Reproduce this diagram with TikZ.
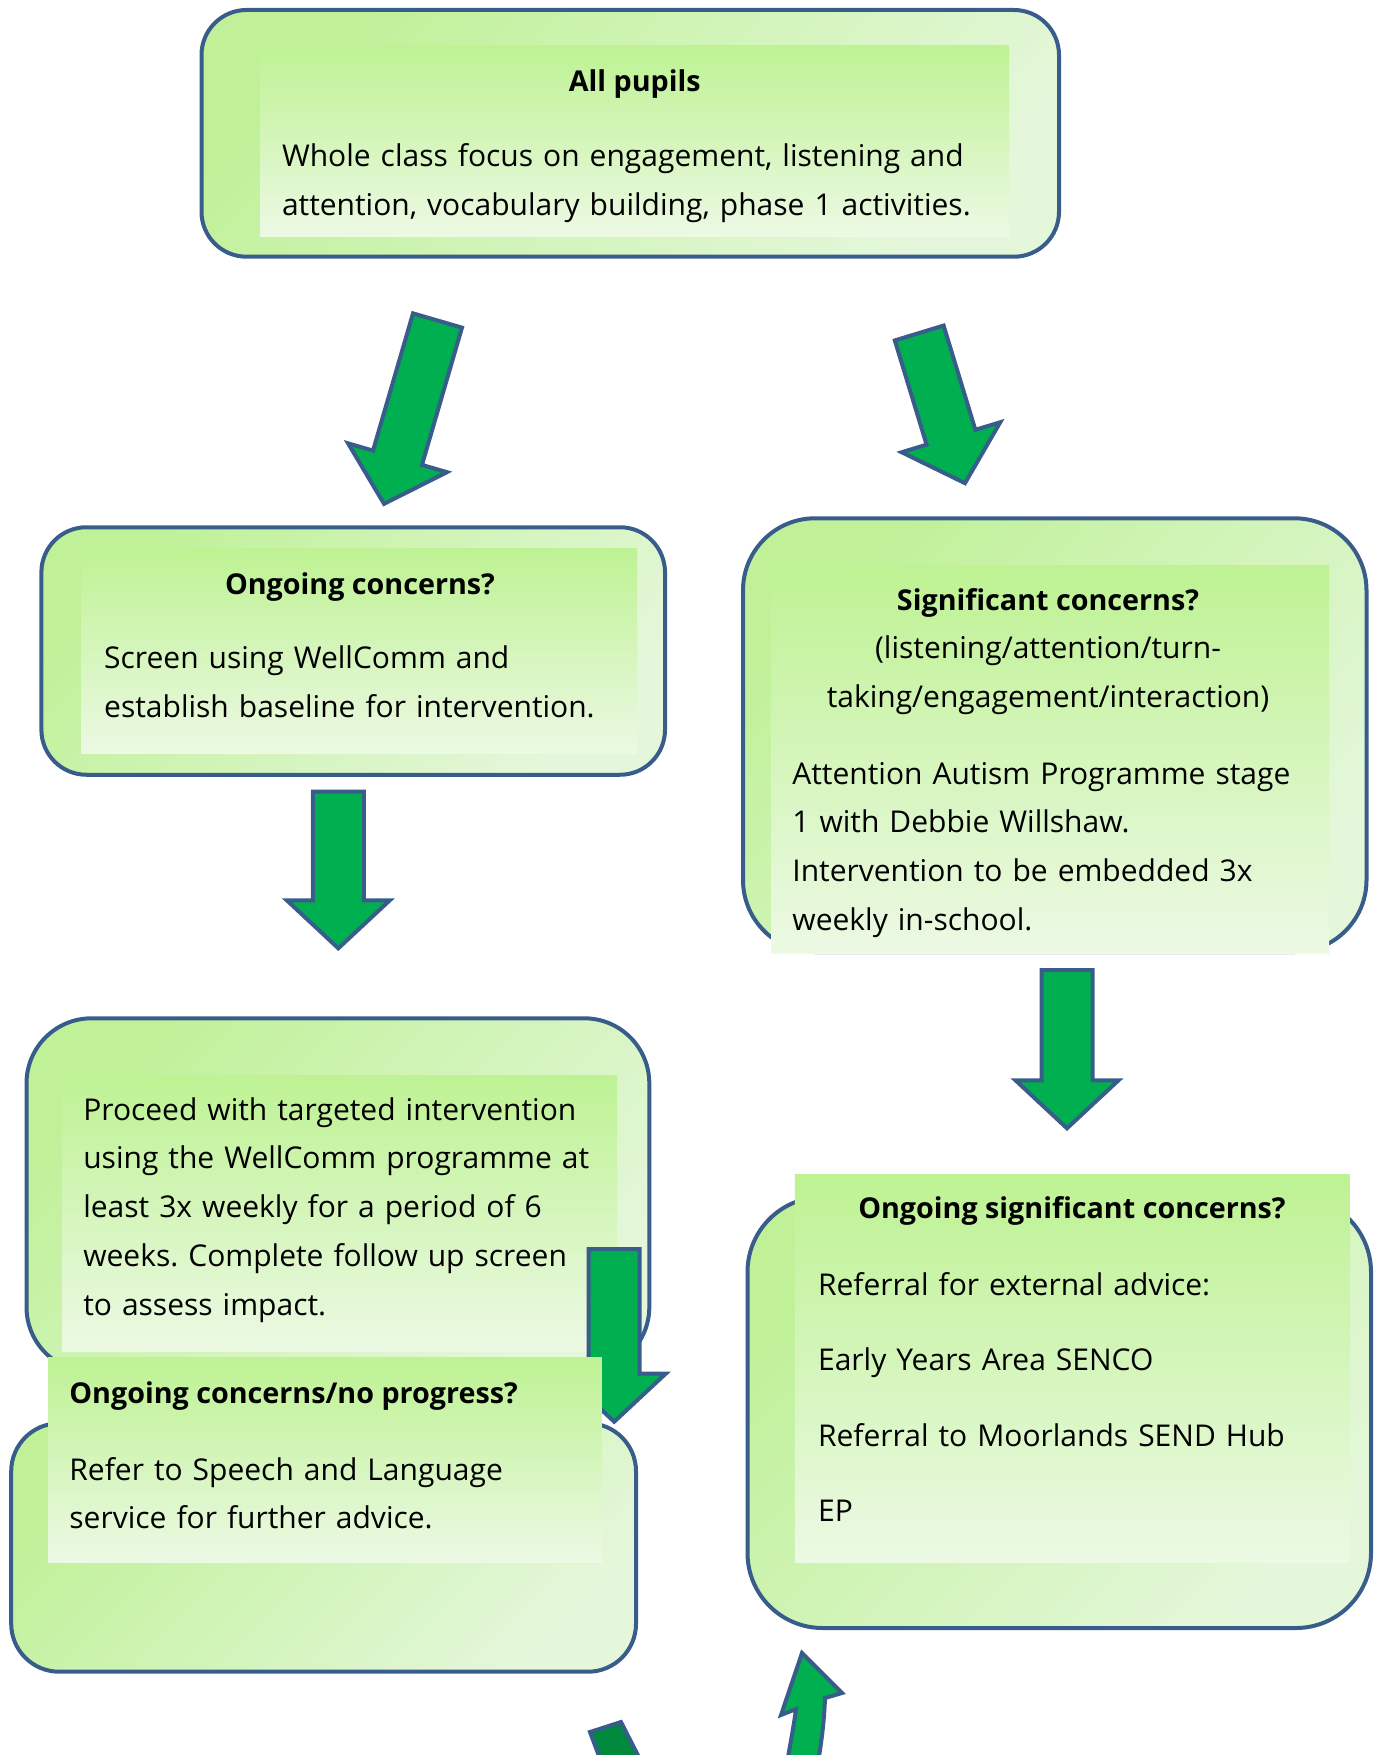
\documentclass[tikz,border=0pt]{standalone}
\usepackage{fontspec}
\setmainfont{Open Sans}
\frenchspacing
\usetikzlibrary{positioning,shapes.arrows}
\definecolor{linecolor}{HTML}{385D8A}
\definecolor{arrowcolor}{HTML}{00B050}
\definecolor{tailcolor}{HTML}{00883D}
\definecolor{boxtop}{HTML}{C0F199}
\definecolor{boxbottom}{HTML}{E4F7DA}
\definecolor{paneltop}{HTML}{BEF293}
\definecolor{panelbottom}{HTML}{ECF9E4}
\newcommand{\bodysize}{\fontsize{30}{48.7}\selectfont}
\newcommand{\titlesize}{\fontsize{28.7}{48.7}\selectfont}
\tikzset{
    box/.style={
        shape=rectangle,
        draw=linecolor,
        line width=4pt,
        top color=boxtop,
        bottom color=boxbottom,
        shading angle=45,
        inner sep=0pt,
        outer sep=0pt
    },
    panel/.style={
        shape=rectangle,
        top color=paneltop,
        bottom color=panelbottom,
        inner sep=0pt,
        outer sep=0pt
    },
    title/.style={
        font=\titlesize\bfseries,
        anchor=base,
        inner sep=0pt
    },
    body/.style={
        font=\bodysize,
        anchor=north west,
        align=left,
        text width=#1,
        inner sep=0pt
    },
    body/.default=560pt,
    flow/.style={
        single arrow,
        draw=linecolor,
        fill=arrowcolor,
        line width=4pt,
        inner xsep=0pt,
        inner ysep=23.5pt,
        single arrow head extend=26pt,
        single arrow tip angle=94,
        anchor=tail,
        outer sep=0pt
    }
}

\begin{document}
\begin{tikzpicture}[x=1pt, y=-1pt]
    \useasboundingbox (0,0) rectangle (1376,1755);

    % all pupils
    \node[box, rounded corners=45pt, minimum width=857.5pt, minimum height=246.7pt] (bA) at (630.25,133.35) {};
    \node[panel, minimum width=749pt, minimum height=190pt] (pA) at (634.5,141) {};
    \node[title] (tA) at (634.8,91.7) {All pupils};
    \node[body=720pt] (xA) at (281.8,132.6)
        {\strut Whole class focus on engagement, listening and\\
         attention, vocabulary building, phase 1 activities.};

    \node[flow, rotate=-106.25, minimum height=191pt] (f1) at (437.5,320.5) {};
    \node[flow, rotate=-73.05, minimum height=157pt] (f2) at (919.2,333) {};

    % ongoing concerns
    \node[box, rounded corners=45pt, minimum width=623.6pt, minimum height=247.5pt] (bB) at (353.2,651) {};
    \node[panel, minimum width=555.3pt, minimum height=204.9pt] (pB) at (359.35,651.05) {};
    \node[title] (tB) at (360,594.5) {Ongoing concerns?};
    \node[body] (xB) at (104,634.3)
        {\strut Screen using WellComm and\\
         establish baseline for intervention.};

    % significant concerns
    \node[box, rounded corners=72pt, minimum width=623.5pt, minimum height=433.7pt] (bS) at (1054.75,735.15) {};
    \node[panel, minimum width=557.5pt, minimum height=388.3pt] (pS) at (1050.25,759.15) {};
    \node[title] (tS) at (1048,610) {Significant concerns?};
    \node[font=\bodysize, anchor=north, align=center, text width=540pt, inner sep=0pt] (uS) at (1048,624.2)
        {\strut(listening/attention/turn-\\
         taking/engagement/interaction)};
    \node[body] (xS) at (792.2,749.9)
        {\strut Attention Autism Programme stage\\
         1 with Debbie Willshaw.\\
         Intervention to be embedded 3x\\
         weekly in-school.};

    \node[flow, rotate=-90, minimum height=156.6pt] (f3) at (338.3,791.7) {};
    \node[flow, rotate=-90, minimum height=158.3pt] (f4) at (1067,970) {};

    % targeted intervention
    \node[box, rounded corners=65pt, minimum width=622.8pt, minimum height=353.7pt] (bT) at (337.9,1195.15) {};
    \node[panel, minimum width=555pt, minimum height=276.7pt] (pT) at (339.5,1213.35) {};
    \node[body] (xT) at (83.1,1085.9)
        {\strut Proceed with targeted intervention\\
         using the WellComm programme at\\
         least 3x weekly for a period of 6\\
         weeks. Complete follow up screen\\
         to assess impact.};

    \node[flow, rotate=-90, minimum height=172.7pt] (f5) at (614.2,1249) {};

    % no progress
    \node[box, rounded corners=48pt, minimum width=624.8pt, minimum height=248.4pt] (bN) at (323.6,1547.5) {};
    \node[panel, minimum width=553.6pt, minimum height=205pt] (pN) at (325,1460.2) {};
    \node[title, anchor=base west] (tN) at (69.2,1403.3) {Ongoing concerns/no progress?};
    \node[body] (xN) at (69.2,1445.9)
        {\strut Refer to Speech and Language\\
         service for further advice.};

    % ongoing significant concerns
    \node[box, rounded corners=75pt, minimum width=623.5pt, minimum height=431pt] (bO) at (1059.25,1412.5) {};
    \node[panel, minimum width=554.9pt, minimum height=388.7pt] (pO) at (1072.25,1368.35) {};
    \node[title] (tO) at (1072,1218.3) {Ongoing significant concerns?};
    \node[body] (xO) at (817.9,1260.9)
        {\strut Referral for external advice:\\[26.8pt]
         Early Years Area SENCO\\[26.8pt]
         Referral to Moorlands SEND Hub\\[26.8pt]
         EP};

    \begin{scope} % loop back
        \clip (0,0) rectangle (1376,1755);
        \draw[fill=tailcolor, draw=linecolor, line width=4pt]
            (590,1732) -- (621,1722) -- (648,1775) -- (608,1780) -- cycle;
        \draw[fill=arrowcolor, draw=linecolor, line width=4pt]
            (802,1653) -- (842,1693) -- (825,1698)
            .. controls (824,1725) and (821,1745) .. (816,1775)
            -- (785,1775)
            .. controls (790,1745) and (794,1725) .. (796,1709)
            -- (781,1715) -- cycle;
    \end{scope}
\end{tikzpicture}
\end{document}
